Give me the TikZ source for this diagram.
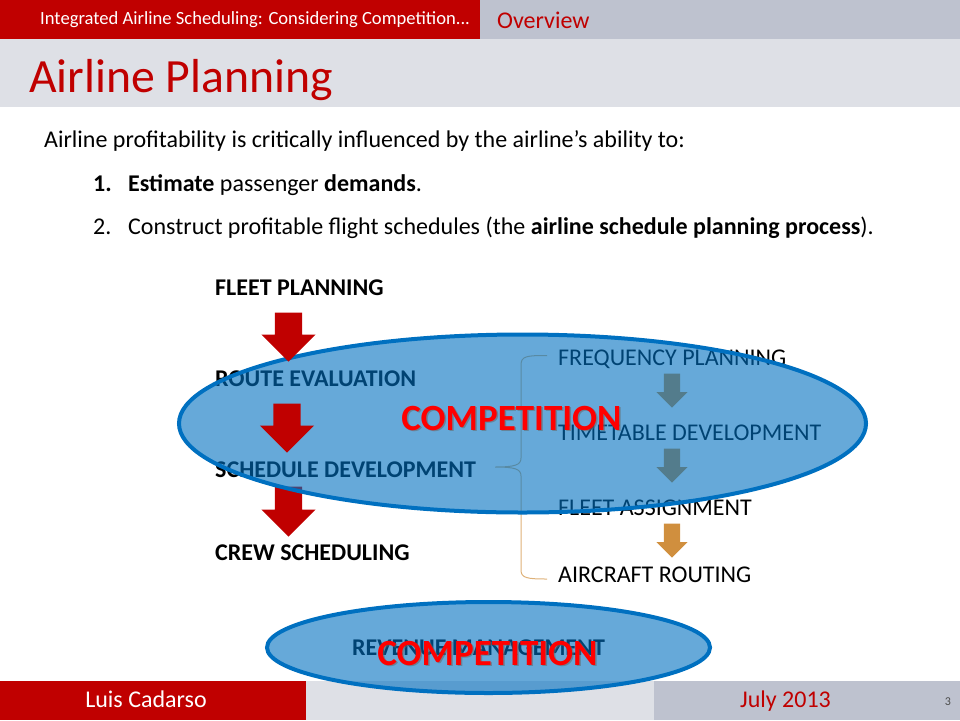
\documentclass[tikz,border=0pt]{standalone}
\usepackage{fontspec}
\setmainfont{Carlito}
\usetikzlibrary{shapes.geometric,shapes.arrows}
\definecolor{slidered}{HTML}{C00000}
\definecolor{bandgrey}{HTML}{BEC2CF}
\definecolor{titlegrey}{HTML}{DEE0E6}
\definecolor{ovalblue}{HTML}{0070C0}
\definecolor{routetan}{HTML}{D08F3E}
\tikzset{
    steptext/.style={anchor=base west, inner sep=0pt, font=\fontsize{24}{24}\selectfont},
    stepbold/.style={anchor=base west, inner sep=0pt, font=\fontsize{24}{24}\selectfont\bfseries},
    bodytext/.style={anchor=base west, inner sep=0pt, font=\fontsize{24}{24}\selectfont},
    bigarrow/.style={shape=single arrow, anchor=tip, rotate=-90, fill=slidered, inner sep=0pt, text height=27pt, text depth=0pt,
        minimum height=49pt, single arrow head extend=13.5pt, single arrow tip angle=90},
    smallarrow/.style={shape=single arrow, anchor=tip, rotate=-90, fill=routetan, inner sep=0pt, text height=16pt, text depth=0pt,
        minimum height=34pt, single arrow head extend=7.5pt, single arrow tip angle=90},
    oval/.style={shape=ellipse, draw=ovalblue, line width=4pt, fill=ovalblue, fill opacity=0.6, inner sep=0pt},
    shoutshadow/.style={anchor=base, font=\fontsize{37}{37}\selectfont\bfseries, text=black!60, opacity=0.55, inner sep=0pt},
    shout/.style={anchor=base, font=\fontsize{37}{37}\selectfont\bfseries, text=red, inner sep=0pt},
}
\begin{document}
\begin{tikzpicture}[x=1pt,y=-1pt]
    \useasboundingbox (0,0) rectangle (960,720);

    % Header bands
    \fill[titlegrey] (0,39) rectangle (960,107);
    \fill[slidered] (0,0) rectangle (480,39);
    \fill[bandgrey] (480,0) rectangle (960,39);
    \node[anchor=base west, inner sep=0pt, text=white, font=\fontsize{18.6}{18.6}\selectfont] (deckname) at (40,24) {Integrated Airline Scheduling: Considering Competition...};
    \node[anchor=base west, inner sep=0pt, text=slidered, font=\fontsize{24}{24}\selectfont] (section) at (497,28) {Overview};
    \node[anchor=base west, inner sep=0pt, text=slidered, font=\fontsize{47.7}{47.7}\selectfont] (title) at (29,92) {Airline Planning};

    % Footer bands
    \fill[titlegrey] (306,681) rectangle (654,720);
    \fill[slidered] (0,681) rectangle (306,720);
    \fill[bandgrey] (654,681) rectangle (960,720);
    \node[anchor=base, text=white, inner sep=0pt, font=\fontsize{24}{24}\selectfont] (presenter) at (146,707) {Luis Cadarso};
    \node[anchor=base, text=slidered, inner sep=0pt, font=\fontsize{24}{24}\selectfont] (date) at (785.5,707) {July 2013};
    \node[anchor=base, text=black!70, inner sep=0pt, font=\fontsize{12}{12}\selectfont] (pagenum) at (948,705) {3};

    % Intro text
    \node[bodytext] (intro) at (44,147) {Airline profitability is critically influenced by the airline’s ability to:};
    \node[bodytext] (itemA) at (93,191) {\textbf{1.}};
    \node[bodytext] (itemAtext) at (128,191) {\textbf{Estimate} passenger \textbf{demands}.};
    \node[bodytext] (itemB) at (93,234) {2.};
    \node[bodytext] (itemBtext) at (128,234) {Construct profitable flight schedules (the \textbf{airline schedule planning process}).};

    % Right column, under the big oval
    \node[steptext] (frequency) at (558,365) {FREQUENCY PLANNING};
    \node[steptext] (timetable) at (558,440) {TIMETABLE DEVELOPMENT};
    \node[steptext] (fleetassign) at (558,515) {FLEET ASSIGNMENT};
    \node[steptext] (routing) at (558,582) {AIRCRAFT ROUTING};
    \node[smallarrow] (arrowE) at (672,408) {};
    \node[smallarrow] (arrowF) at (672,483) {};
    \node[smallarrow] (arrowG) at (672,558) {};
    \coordinate (bracetop) at (547,355.5);
    \coordinate (bracebottom) at (547,579);
    \coordinate (bracetip) at (495,467);
    \draw[routetan!70, line width=1pt] (bracetop) .. controls (527,355.5) and (521,356) .. (521,365)
        -- (521,458) .. controls (521,465) and (515,467) .. (bracetip)
        .. controls (515,467) and (521,469) .. (521,476)
        -- (521,570) .. controls (521,578) and (527,579) .. (bracebottom);

    % Left column text
    \node[stepbold] (fleetplan) at (215,295) {FLEET PLANNING};
    \node[stepbold] (route) at (215,386) {ROUTE EVALUATION};
    \node[stepbold] (schedule) at (215,477) {SCHEDULE DEVELOPMENT};
    \node[stepbold] (crew) at (215,560) {CREW SCHEDULING};
    \node[stepbold, anchor=base] (revenue) at (478.5,655) {REVENUE MANAGEMENT};

    % This arrow sits under the oval
    \node[bigarrow, minimum height=50pt] (arrowC) at (288.5,537) {};

    % Ovals
    \node[oval, minimum width=687pt, minimum height=178pt] (bigoval) at (522.5,423.5) {};
    \node[oval, minimum width=443pt, minimum height=91pt] (lowoval) at (488.5,647.5) {};

    % Red arrows on top
    \node[bigarrow] (arrowA) at (288.5,362) {};
    \node[bigarrow] (arrowB) at (287,453) {};

    % Competition labels
    \node[shoutshadow] (bigshadow) at (513,431.5) {COMPETITION};
    \node[shout] (bigshout) at (511.5,430) {COMPETITION};
    \node[shoutshadow] (lowshadow) at (489,666.5) {COMPETITION};
    \node[shout] (lowshout) at (487.5,665) {COMPETITION};
\end{tikzpicture}
\end{document}
